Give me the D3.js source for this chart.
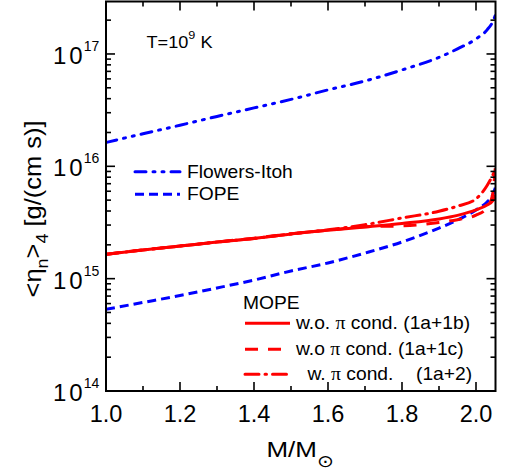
<!DOCTYPE html>
<html><head><meta charset="utf-8">
<script src="https://cdn.jsdelivr.net/npm/d3@7"></script>
<style>body{margin:0;background:#fff}svg{display:block}text{font-family:"Liberation Sans",Arial,sans-serif;fill:#000}</style>
</head><body><div id="chart"></div>
<script>
const masses      = [1.0, 1.1, 1.2, 1.3, 1.4, 1.5, 1.6, 1.7, 1.8, 1.9, 1.95, 2.0, 2.03, 2.045, 2.053];
const flowersItoh = [1.63e16,1.95e16,2.32e16,2.78e16,3.31e16,3.94e16,4.79e16,5.75e16,7.21e16,9.33e16,1.11e17,1.36e17,1.64e17,1.93e17,2.24e17];
const fope        = [5.33e14,6.14e14,7.08e14,8.26e14,9.72e14,1.17e15,1.38e15,1.69e15,2.12e15,2.82e15,3.33e15,4.09e15,4.82e15,5.56e15,6.56e15];
const mope1a1b    = [1.65e15,1.80e15,1.95e15,2.12e15,2.28e15,2.50e15,2.69e15,2.88e15,3.10e15,3.40e15,3.66e15,4.09e15,4.53e15,4.92e15,5.56e15];
const mope1a1c    = [1.65e15,1.80e15,1.95e15,2.12e15,2.29e15,2.51e15,2.70e15,2.90e15,2.95e15,3.16e15,3.35e15,3.67e15,4.27e15,5.62e15,1.07e16];
const mope1a2     = [1.65e15,1.80e15,1.95e15,2.12e15,2.28e15,2.50e15,2.72e15,3.02e15,3.47e15,3.98e15,4.42e15,5.13e15,6.76e15,8.32e15,9.55e15];
const xTicks      = [1.0, 1.2, 1.4, 1.6, 1.8, 2.0];
const xMinor      = [1.1, 1.3, 1.5, 1.7, 1.9];
const yTickExps   = [14, 15, 16, 17];
const xDomain     = [1.0, 2.0527];
const yDomain     = [1e14, Math.pow(10, 17.467)];

const W = 506, H = 474;
const m = {left:106, right:10.5, top:1.5, bottom:83};
const svg = d3.select("#chart").append("svg").attr("width", W).attr("height", H);
const x = d3.scaleLinear().domain(xDomain).range([m.left, W - m.right]);
const y = d3.scaleLog().domain(yDomain).range([H - m.bottom, m.top]);
const x0 = x.range()[0], x1 = x.range()[1], y0 = y.range()[0], y1 = y.range()[1];

svg.append("clipPath").attr("id","clip").append("rect")
  .attr("x", x0).attr("y", y1).attr("width", x1 - x0).attr("height", y0 - y1);

const line = d3.line().x(d => x(d[0])).y(d => y(d[1])).curve(d3.curveMonotoneX);
const series = [
  {v: flowersItoh, c: "#0000ff", dash: "11,7,2,7,2,7", cap: "round"},
  {v: fope,        c: "#0000ff", dash: "9,5", cap: "butt"},
  {v: mope1a1b,    c: "#ff0000", dash: null, cap: "butt"},
  {v: mope1a1c,    c: "#ff0000", dash: "13,10", cap: "butt"},
  {v: mope1a2,     c: "#ff0000", dash: "14,6,1.5,6", cap: "round"}
];
const g = svg.append("g").attr("clip-path", "url(#clip)");
series.forEach(s => {
  g.append("path").datum(masses.map((mm, i) => [mm, s.v[i]]))
    .attr("d", line).attr("fill", "none").attr("stroke", s.c).attr("stroke-width", 3)
    .attr("stroke-dasharray", s.dash).attr("stroke-linecap", s.cap);
});

// axes (ticks inward)
const ax = svg.append("g").attr("stroke", "#000").attr("stroke-width", 1.6);
const allX = xTicks.map(t => [t, 9]).concat(xMinor.map(t => [t, 5]));
allX.forEach(([t, L]) => {
  ax.append("line").attr("x1", x(t)).attr("x2", x(t)).attr("y1", y0).attr("y2", y0 - L);
  ax.append("line").attr("x1", x(t)).attr("x2", x(t)).attr("y1", y1).attr("y2", y1 + L);
});
const yt = [];
for (let e = 14; e <= 17; e++) for (let k = 1; k <= 9; k++) {
  const v = k * Math.pow(10, e);
  if (v <= yDomain[1]) yt.push([v, k === 1 ? 9 : 5]);
}
yt.forEach(([v, L]) => {
  ax.append("line").attr("x1", x0).attr("x2", x0 + L).attr("y1", y(v)).attr("y2", y(v));
  ax.append("line").attr("x1", x1).attr("x2", x1 - L).attr("y1", y(v)).attr("y2", y(v));
});
svg.append("rect").attr("x", x0).attr("y", y1).attr("width", x1 - x0).attr("height", y0 - y1)
  .attr("fill", "none").attr("stroke", "#000").attr("stroke-width", 2);

// tick labels
xTicks.forEach(t => {
  svg.append("text").attr("x", x(t)).attr("y", 421.5).attr("text-anchor", "middle")
    .attr("font-size", 23.5).text(t.toFixed(1));
});
yTickExps.forEach(e => {
  const t = svg.append("text").attr("x", 53).attr("y", y(Math.pow(10, e)) + 10)
    .attr("font-size", 24).attr("letter-spacing", 3);
  t.append("tspan").text("10");
  t.append("tspan").attr("font-size", 14).attr("dy", -13).attr("dx", -2).attr("letter-spacing", 0).text(e);
});

// axis titles
const xt = svg.append("text").attr("x", 266.5).attr("y", 457.5).attr("font-size", 22)
  .attr("transform", "translate(266.5,0) scale(1.18,1) translate(-266.5,0)");
xt.append("tspan").text("M/M");
xt.append("tspan").attr("font-family", "DejaVu Sans").attr("font-size", 17).attr("dy", 10).text("\u2299");

const ytl = svg.append("text").attr("font-size", 24).attr("text-anchor", "middle")
  .attr("transform", "translate(41,209) rotate(-90) scale(1.06,1)");
ytl.append("tspan").text("<\u03b7");
ytl.append("tspan").attr("font-size", 17).attr("dy", 7).text("n");
ytl.append("tspan").attr("dy", -7).text(">");
ytl.append("tspan").attr("font-size", 17).attr("dy", 7).text("4");
ytl.append("tspan").attr("dy", -7).text(" [g/(cm s)]");

// annotation
const ann = svg.append("text").attr("x", 146.5).attr("y", 48.5).attr("font-size", 16.5)
  .attr("transform", "translate(146.5,0) scale(1.1,1) translate(-146.5,0)");
ann.append("tspan").text("T=10");
ann.append("tspan").attr("font-size", 11.5).attr("dy", -9).text("9");
ann.append("tspan").attr("dy", 9).text(" K");

// legends
const legA = [
  {y: 171.7, s: series[0], label: "Flowers-Itoh"},
  {y: 194.3, s: series[1], label: "FOPE"}
];
legA.forEach(d => {
  svg.append("line").attr("x1", 135).attr("x2", 180).attr("y1", d.y).attr("y2", d.y)
    .attr("stroke", d.s.c).attr("stroke-width", 3).attr("stroke-dasharray", d.s.dash).attr("stroke-linecap", d.s.cap);
  svg.append("text").attr("x", 187).attr("y", d.y + 6).attr("font-size", 17.5)
    .attr("transform", `translate(187,0) scale(1.1,1) translate(-187,0)`).text(d.label);
});
svg.append("text").attr("x", 243).attr("y", 309.3).attr("font-size", 17.5)
  .attr("transform", "translate(243,0) scale(1.1,1) translate(-243,0)").text("MOPE");
const legB = [
  {y: 323.3, s: series[2], pre: "w.o. ", post: " cond. (1a+1b)", tx: 296},
  {y: 349.3, s: series[3], pre: "w.o ",  post: " cond. (1a+1c)", tx: 296},
  {y: 374.3, s: series[4], pre: "w. ",   post: " cond.", tx: 307.5}
];
legB.forEach(d => {
  svg.append("line").attr("x1", 245).attr("x2", 290).attr("y1", d.y).attr("y2", d.y)
    .attr("stroke", d.s.c).attr("stroke-width", 3).attr("stroke-dasharray", d.s.dash).attr("stroke-linecap", d.s.cap);
  const t = svg.append("text").attr("x", d.tx).attr("y", d.y + 6).attr("font-size", 17.5)
    .attr("transform", `translate(${d.tx},0) scale(1.1,1) translate(${-d.tx},0)`);
  t.append("tspan").text(d.pre);
  t.append("tspan").attr("font-family", "Liberation Serif").attr("font-size", 18).text("\u03c0");
  t.append("tspan").text(d.post);
});
svg.append("text").attr("x", 416).attr("y", 380.3).attr("font-size", 17.5)
  .attr("transform", "translate(416,0) scale(1.1,1) translate(-416,0)").text("(1a+2)");
</script></body></html>
